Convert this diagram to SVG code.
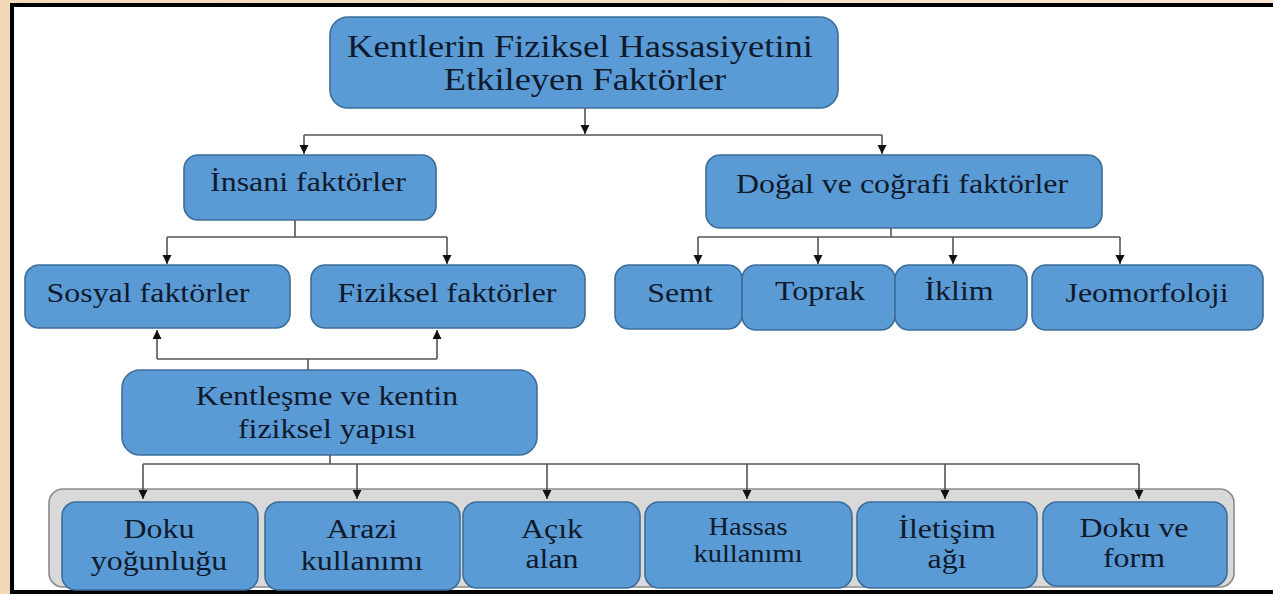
<svg xmlns="http://www.w3.org/2000/svg" width="1273" height="594" viewBox="0 0 1273 594">
<style>
.box{fill:#5b9bd5;stroke:#3d6d99;stroke-width:1.6}
.t{font-family:"Liberation Serif","Times New Roman",serif;font-size:28px;fill:#0f1a2c;text-anchor:middle}
.big{font-size:32px}
.sm{font-size:25px}
.ln{fill:none;stroke:#555;stroke-width:1.6}
.arr{marker-end:url(#ah)}
</style>
<defs>
<linearGradient id="bg" x1="0" y1="0" x2="1" y2="0">
<stop offset="0" stop-color="#f4d9b8"/><stop offset="1" stop-color="#f8e6cf"/>
</linearGradient>
<marker id="ah" markerUnits="userSpaceOnUse" markerWidth="10" markerHeight="10" refX="9" refY="4.5" orient="auto">
<path d="M0,0 L9,4.5 L0,9 z" fill="#111"/>
</marker>
</defs>
<rect x="0" y="0" width="1273" height="594" fill="url(#bg)"/>
<rect x="12" y="5" width="1270" height="587" fill="#fff" stroke="#000" stroke-width="4"/>

<g id="n-top"><rect class="box" x="330" y="17" width="508" height="91" rx="18"/>
<text class="t big" transform="translate(580,57) scale(1.14,1)">Kentlerin Fiziksel Hassasiyetini</text>
<text class="t big" transform="translate(585,90) scale(1.14,1)">Etkileyen Faktörler</text></g>

<g id="n-insani"><rect class="box" x="184" y="155" width="252" height="65" rx="14"/>
<text class="t" transform="translate(308,191) scale(1.14,1)">İnsani faktörler</text></g>

<g id="n-dogal"><rect class="box" x="706" y="155" width="396" height="73" rx="14"/>
<text class="t" transform="translate(902,193) scale(1.14,1)">Doğal ve coğrafi faktörler</text></g>

<g id="n-sosyal"><rect class="box" x="25" y="265" width="265" height="63" rx="14"/>
<text class="t" transform="translate(148,302) scale(1.14,1)">Sosyal faktörler</text></g>

<g id="n-fiziksel"><rect class="box" x="311" y="265" width="274" height="63" rx="14"/>
<text class="t" transform="translate(447,302) scale(1.14,1)">Fiziksel faktörler</text></g>

<g id="n-semt"><rect class="box" x="615" y="265" width="127" height="64" rx="14"/>
<text class="t" transform="translate(680,302) scale(1.14,1)">Semt</text></g>

<g id="n-toprak"><rect class="box" x="742" y="265" width="153" height="65" rx="14"/>
<text class="t" transform="translate(820,300) scale(1.14,1)">Toprak</text></g>

<g id="n-iklim"><rect class="box" x="895" y="265" width="132" height="65" rx="14"/>
<text class="t" transform="translate(959,300) scale(1.14,1)">İklim</text></g>

<g id="n-jeo"><rect class="box" x="1032" y="265" width="231" height="65" rx="14"/>
<text class="t" transform="translate(1147,302) scale(1.14,1)">Jeomorfoloji</text></g>

<g id="n-kent"><rect class="box" x="122" y="370" width="415" height="85" rx="18"/>
<text class="t" transform="translate(327,405) scale(1.14,1)">Kentleşme ve kentin</text>
<text class="t" transform="translate(327,438) scale(1.14,1)">fiziksel yapısı</text></g>

<g id="n-container"><rect x="49" y="489" width="1185" height="98" rx="14" fill="#d9d9d9" stroke="#8a8a8a" stroke-width="1.6"/></g>

<g id="n-doku"><rect class="box" x="62" y="502" width="196" height="88" rx="14"/>
<text class="t" transform="translate(159,538) scale(1.14,1)">Doku</text>
<text class="t" transform="translate(159,570) scale(1.14,1)">yoğunluğu</text></g>

<g id="n-arazi"><rect class="box" x="265" y="502" width="195" height="88" rx="14"/>
<text class="t" transform="translate(362,538) scale(1.14,1)">Arazi</text>
<text class="t" transform="translate(362,570) scale(1.14,1)">kullanımı</text></g>

<g id="n-acik"><rect class="box" x="463" y="502" width="177" height="86" rx="14"/>
<text class="t" transform="translate(552,538) scale(1.14,1)">Açık</text>
<text class="t" transform="translate(552,568) scale(1.14,1)">alan</text></g>

<g id="n-hassas"><rect class="box" x="645" y="502" width="207" height="86" rx="14"/>
<text class="t sm" transform="translate(748,535) scale(1.14,1)">Hassas</text>
<text class="t sm" transform="translate(748,562) scale(1.14,1)">kullanımı</text></g>

<g id="n-iletisim"><rect class="box" x="857" y="502" width="180" height="86" rx="14"/>
<text class="t" transform="translate(947,538) scale(1.14,1)">İletişim</text>
<text class="t" transform="translate(947,568) scale(1.14,1)">ağı</text></g>

<g id="n-form"><rect class="box" x="1043" y="502" width="184" height="84" rx="14"/>
<text class="t" transform="translate(1134,537) scale(1.14,1)">Doku ve</text>
<text class="t" transform="translate(1134,567) scale(1.14,1)">form</text></g>

<g id="connectors">
<path class="ln arr" d="M585,108 V134"/>
<path class="ln" d="M304,135 H882"/>
<path class="ln arr" d="M304,135 V154"/>
<path class="ln arr" d="M882,135 V154"/>
<path class="ln" d="M295,220 V237 M167,237 H447"/>
<path class="ln arr" d="M167,237 V264"/>
<path class="ln arr" d="M447,237 V264"/>
<path class="ln" d="M891,228 V237 M698,237 H1120"/>
<path class="ln arr" d="M698,237 V264"/>
<path class="ln arr" d="M818,237 V264"/>
<path class="ln arr" d="M953,237 V264"/>
<path class="ln arr" d="M1120,237 V264"/>
<path class="ln" d="M308,370 V359 M157,359 H437"/>
<path class="ln arr" d="M157,359 V330"/>
<path class="ln arr" d="M437,359 V330"/>
<path class="ln" d="M330,455 V464 M143,464 H1139"/>
<path class="ln arr" d="M143,464 V499"/>
<path class="ln arr" d="M357,464 V499"/>
<path class="ln arr" d="M547,464 V499"/>
<path class="ln arr" d="M747,464 V499"/>
<path class="ln arr" d="M945,464 V499"/>
<path class="ln arr" d="M1139,464 V499"/>
</g>
</svg>
